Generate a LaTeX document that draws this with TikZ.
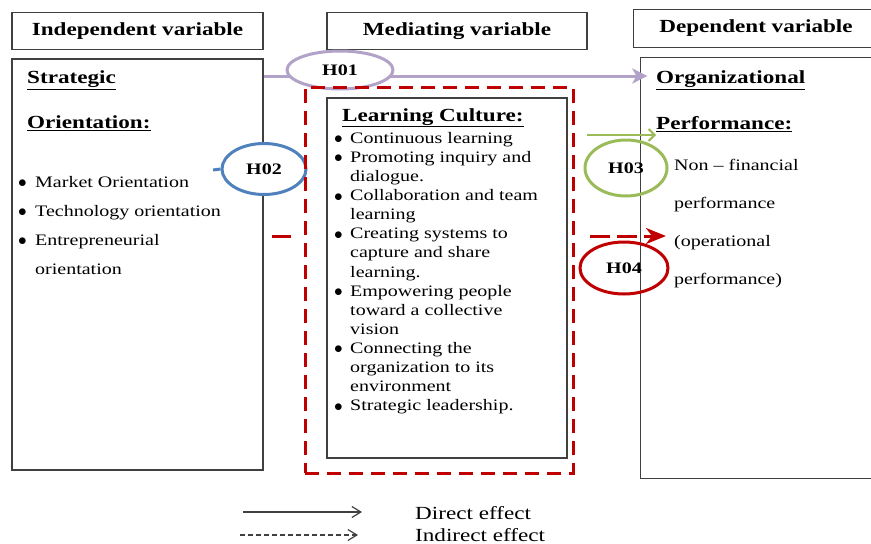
\documentclass[tikz,border=0pt]{standalone}
\usepackage{fontspec}
\setmainfont{Liberation Serif}[FakeStretch=1.25]
\usetikzlibrary{arrows.meta, positioning, calc, shapes.geometric}
\definecolor{boxgray}{HTML}{404040}
\definecolor{hpurple}{HTML}{B3A2C7}
\definecolor{hblue}{HTML}{4F81BD}
\definecolor{hgreen}{HTML}{9BBB59}
\definecolor{hred}{HTML}{C00000}
\newcommand\hdfont{\fontsize{18.5}{22}\selectfont\bfseries}
\newcommand\hypfont{\fontsize{16}{19}\selectfont\bfseries}
\newcommand\blt[1]{\makebox[#1][l]{\raisebox{-0.5pt}{$\bullet$}}}
\tikzset{
    boxline/.style={draw=boxgray, line width=1.3pt},
    varhead/.style={boxline, minimum height=37pt, inner sep=0pt, font=\hdfont},
    varbox/.style={boxline, inner sep=0pt},
    medframe/.style={draw=hred, line width=3pt, dash pattern=on 14pt off 8pt, inner sep=0pt},
    hypo/.style={ellipse, line width=3pt, inner sep=0pt, font=\hypfont},
    boxtitle/.style={anchor=north west, inner sep=0pt, align=left},
    boxlist/.style={anchor=north west, inner sep=0pt, align=left},
    h01arrow/.style={-{Stealth[length=15pt, width=15pt, inset=4pt]}, draw=hpurple, line width=3pt},
    h03arrow/.style={-{Straight Barb[length=6pt, width=12pt]}, draw=hgreen, line width=2pt},
    h04arrow/.style={-{Stealth[length=20pt, width=16pt, inset=6pt]}, draw=hred, line width=3pt, dash pattern=on 20pt off 7pt},
    legdirect/.style={-{Straight Barb[length=9pt, width=11pt]}, draw=boxgray, line width=1.2pt},
    legindirect/.style={legdirect, dash pattern=on 5pt off 3pt}
}

\begin{document}
\begin{tikzpicture}[x=1pt, y=-1pt]
    \useasboundingbox (0,0) rectangle (871,544);
    \coordinate (rim) at (871,0);

    % column headings
    \node[varhead, minimum width=251pt] (indephead) at (137.5,31) {Independent variable};
    \node[varhead, minimum width=260pt] (medhead) at (457,31) {Mediating variable};
    \node[varhead, draw=none, minimum width=244pt] (dephead) at (756,28.5) {Dependent variable};
    \draw[boxline] (rim |- dephead.north) -- (dephead.north west) -- (dephead.south west) -- (rim |- dephead.south);

    % variable boxes
    \node[varbox, minimum width=251pt, minimum height=411pt] (indep) at (137.5,264.5) {};
    \node[varbox, minimum width=240pt, minimum height=360pt] (med) at (447,278) {};
    \node[varbox, draw=none, minimum width=240pt, minimum height=420pt] (dep) at (761,268) {};
    \draw[boxline] (rim |- dep.north) -- (dep.north west) -- (dep.south west) -- (rim |- dep.south);

    % box contents
    \node[boxtitle, font=\fontsize{18.5}{45}\selectfont\bfseries] (stratitle) at (27,70.5)
        {\underline{Strategic}\\\underline{Orientation:}};
    \node[boxlist, font=\fontsize{16}{29}\selectfont] (stratlist) at (18,176)
        {\blt{17pt}Market Orientation\\
         \blt{17pt}Technology orientation\\
         \blt{17pt}Entrepreneurial\\
         \hspace*{17pt}orientation};
    \node[boxtitle, font=\fontsize{18.5}{22}\selectfont\bfseries] (lctitle) at (342,108)
        {\underline{Learning Culture:}};
    \node[boxlist, font=\fontsize{16}{19.1}\selectfont] (lclist) at (334,132)
        {\blt{16pt}Continuous learning\\
         \blt{16pt}Promoting inquiry and\\
         \hspace*{16pt}dialogue.\\
         \blt{16pt}Collaboration and team\\
         \hspace*{16pt}learning\\
         \blt{16pt}Creating systems to\\
         \hspace*{16pt}capture and share\\
         \hspace*{16pt}learning.\\
         \blt{16pt}Empowering people\\
         \hspace*{16pt}toward a collective\\
         \hspace*{16pt}vision\\
         \blt{16pt}Connecting the\\
         \hspace*{16pt}organization to its\\
         \hspace*{16pt}environment\\
         \blt{16pt}Strategic leadership.};
    \node[boxtitle, font=\fontsize{18.5}{46}\selectfont\bfseries] (perftitle) at (656,70.5)
        {\underline{Organizational}\\\underline{Performance:}};
    \node[boxlist, font=\fontsize{16}{38}\selectfont] (perflist) at (674,159)
        {Non -- financial\\performance\\(operational\\performance)};

    % hypothesised paths
    \coordinate (h01row) at (0,76);
    \coordinate (h02from) at (213,170);
    \coordinate (h03from) at (587,135);
    \coordinate (h03to) at (656,135);
    \coordinate (h04from) at (272,236);
    \coordinate (h04mid) at (291,236);
    \coordinate (h04cont) at (590,236);
    \coordinate (h04to) at (666,236);
    \draw[h01arrow, shorten >=-7pt] (indep.east |- h01row) -- (dep.west |- h01row);
    \draw[h03arrow] (h03from) -- (h03to);
    \draw[draw=hred, line width=3pt] (h04from) -- (h04mid);
    \draw[h04arrow] (h04cont) -- (h04to);

    \node[hypo, draw=hpurple, fill=white, minimum width=106pt, minimum height=38pt] (h01) at (340,70) {H01};
    \node[hypo, draw=hblue, fill=white, minimum width=84pt, minimum height=51pt] (h02) at (264,169) {H02};
    \draw[draw=hblue, line width=3pt] (h02from) -- (h02.west);
    \node[hypo, draw=hgreen, minimum width=82pt, minimum height=56pt] (h03) at (626,168) {H03};
    \node[hypo, draw=hred, minimum width=88pt, minimum height=52pt] (h04) at (624,268) {H04};

    % mediating frame
    \node[medframe, minimum width=268pt, minimum height=386pt] (medframe) at (439,280) {};

    % legend
    \coordinate (dirfrom) at (243,512);
    \coordinate (dirto) at (362,512);
    \coordinate (indfrom) at (240,535);
    \coordinate (indto) at (358,535);
    \draw[legdirect] (dirfrom) -- (dirto);
    \draw[legindirect] (indfrom) -- (indto);
    \node[anchor=west, inner sep=0pt, font=\fontsize{18.5}{22}\selectfont] (dirlabel) at (415,513) {Direct effect};
    \node[anchor=west, inner sep=0pt, font=\fontsize{18.5}{22}\selectfont] (indlabel) at (415,535) {Indirect effect};
\end{tikzpicture}
\end{document}
